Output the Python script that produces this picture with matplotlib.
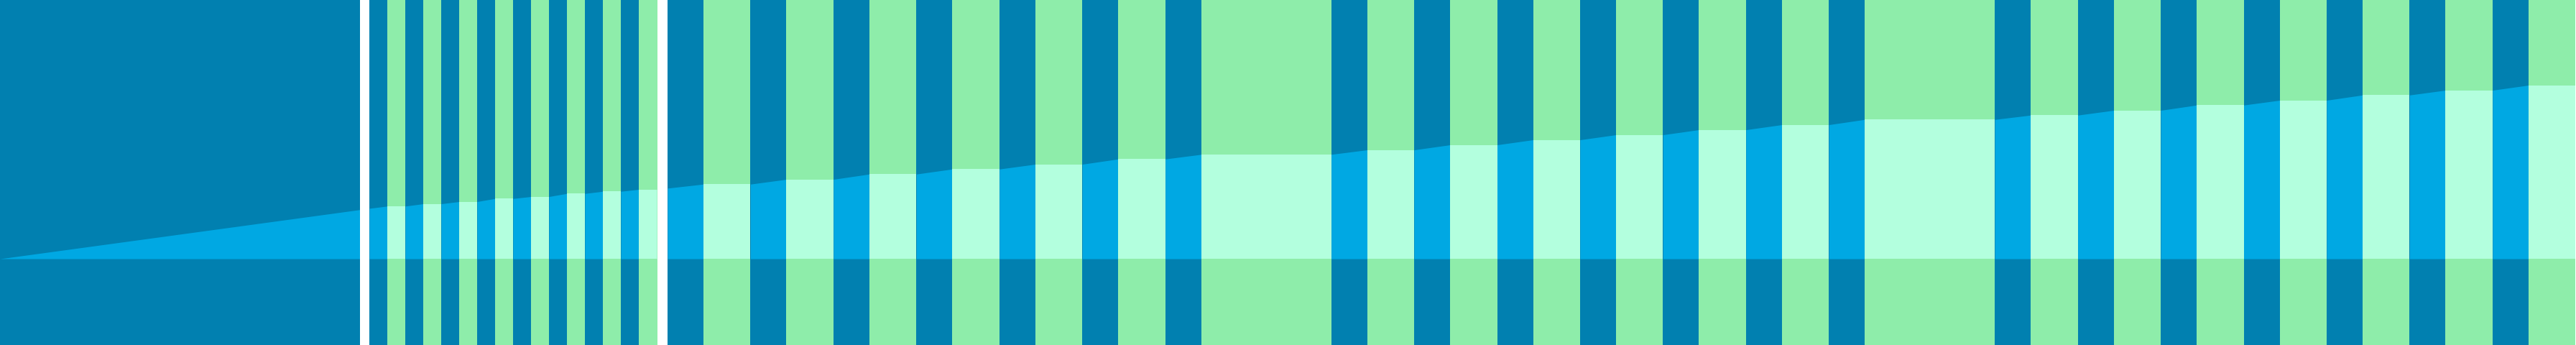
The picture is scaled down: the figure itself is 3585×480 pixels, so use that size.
import matplotlib
matplotlib.use('Agg')
import matplotlib.pyplot as plt
import numpy as np

# 颜色
DARK = '#0180B0'
GREEN = '#8EEDAA'
DARK_HI = '#00A8E3'
GREEN_HI = '#B3FFDE'

# 数据：每根绿柱的高度（基线以上）
lead_end = 70.1
narrow_heights = [73.2, 76.5, 79.5, 83.8, 86.5, 90.8, 93.8, 96.5]
wide_heights = [103.8, 110.5, 117.8, 124.8, 131.5, 138.8, 145.2, 151.5, 158.5,
                165.5, 172.5, 179.5, 186.5, 193.8, 199.8, 206.5, 213.8, 220.5,
                227.8, 234.5, 241.5]
wide_span = [1, 1, 1, 1, 1, 1, 2, 1, 1, 1, 1, 1, 1, 2, 1, 1, 1, 1, 1, 1, 1]

# 布局（像素单位）
W, H = 3585, 480
y_bottom, y_top = -120, 360
lead_w = 501
sep1 = (501, 514)
narrow_start, narrow_period, narrow_dark = 514, 50, 25
sep2 = (914.5, 929)
wide_start, wide_period, wide_dark = 929, 115.45, 50

# 组装条纹和顶部折线
stripes = [(0, sep1[1], 'd')]
px, py = [0, sep1[1]], [0, lead_end]

x = narrow_start
prev = lead_end
for h in narrow_heights:
    stripes.append((x, x + narrow_dark, 'd'))
    stripes.append((x + narrow_dark, x + narrow_period, 'g'))
    px += [x + narrow_dark, x + narrow_period]
    py += [h, h]
    x += narrow_period
    prev = h
stripes.append((x, wide_start, 'g'))

x = wide_start
for h, span in zip(wide_heights, wide_span):
    x_end = x + span * wide_period
    stripes.append((x, x + wide_dark, 'd'))
    stripes.append((x + wide_dark, x_end, 'g'))
    px += [x + wide_dark, x_end]
    py += [h, h]
    x = x_end
    prev = h

px = np.array(px)
py = np.array(py)

fig = plt.figure(figsize=(W / 100, H / 100), dpi=100)
ax = fig.add_axes([0, 0, 1, 1])

for x0, x1, kind in stripes:
    base = DARK if kind == 'd' else GREEN
    hi = DARK_HI if kind == 'd' else GREEN_HI
    ax.bar(x0, y_top - y_bottom, width=x1 - x0, bottom=y_bottom,
           align='edge', color=base, linewidth=0, antialiased=False)
    xs = np.array([x0, x1])
    ys = np.interp(xs, px, py)
    ax.fill_between(xs, 0, ys, color=hi, linewidth=0)

# 白色分隔线
for s0, s1 in (sep1, sep2):
    ax.bar(s0, y_top - y_bottom, width=s1 - s0, bottom=y_bottom,
           align='edge', color='white', linewidth=0)

ax.set_xlim(0, W)
ax.set_ylim(y_bottom, y_top)
ax.axis('off')

plt.savefig('out.png', dpi=100)
plt.close()
